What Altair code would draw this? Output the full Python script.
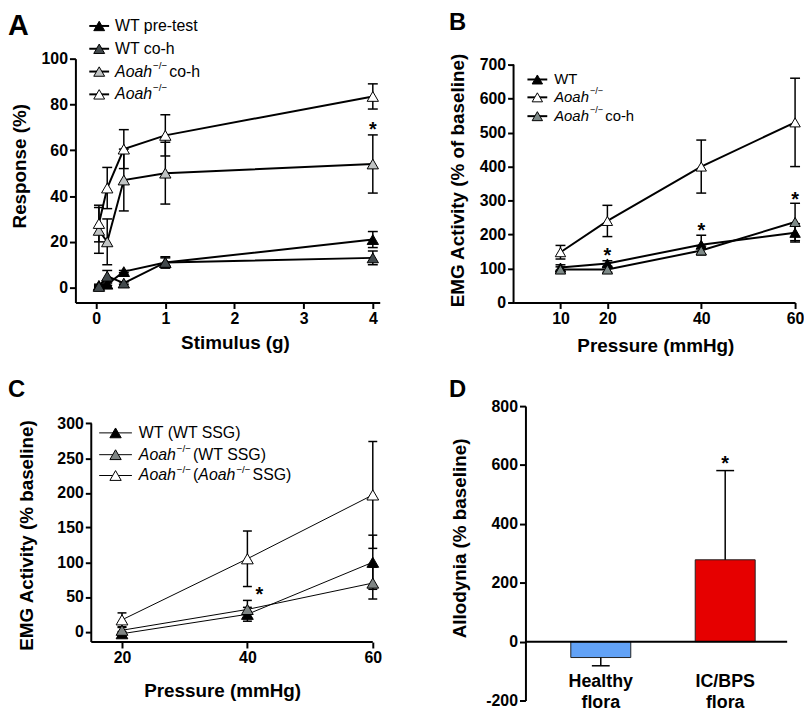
import altair as alt
import pandas as pd

FONT = "Liberation Sans"

# ---------------- data ----------------
a_stimulus = [0.04, 0.16, 0.4, 1, 4]
a_names = ["WT pre-test", "WT co-h", "Aoah-/- co-h", "Aoah-/-"]
a_wt_pre = [1, 1.5, 7, 11, 21]
a_wt_pre_err = [0.5, 0.5, 0.5, 2.5, 3.5]
a_wt_coh = [0.5, 5, 2, 11, 13]
a_wt_coh_err = [0.5, 2.5, 0.5, 2, 3]
a_ko_coh = [25, 20, 47, 50, 54]
a_ko_coh_err = [10, 10, 13.5, 13.5, 12.7]
a_ko = [28, 43.5, 60.5, 66.5, 83.5]
a_ko_err = [8, 9, 8.5, 9, 5.5]
a_fills = ["#000000", "#42494c", "#c0c3c3", "#ffffff"]
a_star_x = [4]
a_star_y = [71]

b_pressure = [10, 20, 40, 60]
b_names = ["WT", "Aoah-/-", "Aoah-/- co-h"]
b_wt = [103, 115, 170, 205]
b_wt_err = [8, 8, 28, 27]
b_ko = [148, 240, 400, 530]
b_ko_err = [20, 46, 78, 130]
b_ko_coh = [97, 97, 153, 237]
b_ko_coh_err = [8, 8, 13, 55]
b_fills = ["#000000", "#ffffff", "#7e8a88"]
b_star_x = [20, 40, 60]
b_star_y = [150, 225, 316]

c_pressure = [20, 40, 60]
c_names = ["WT (WT SSG)", "Aoah-/- (WT SSG)", "Aoah-/- (Aoah-/- SSG)"]
c_wt = [-3, 25, 100]
c_wt_err = [3, 10, 39]
c_ko_wt = [2, 32, 70]
c_ko_wt_err = [4, 13, 23]
c_ko_ko = [17, 105, 197]
c_ko_ko_err = [10, 40, 77]
c_fills = ["#000000", "#7f8584", "#ffffff"]
c_star_x = [41.9]
c_star_y = [60.5]

d_groups = ["Healthy flora", "IC/BPS flora"]
d_mean = [-54, 278]
d_err = [28, 303]
d_colors = ["#62a2f6", "#e60000"]
d_star_y = [620]


def long_df(xs, names, means, errs):
    rows = []
    for n, m, e in zip(names, means, errs):
        for x, mv, ev in zip(xs, m, e):
            rows.append(dict(x=x, series=n, mean=mv, lo=mv - ev, hi=mv + ev))
    return pd.DataFrame(rows)


ONE = alt.Data(values=[{"k": 0}])

WID = {'A': .667, 'o': .556, 'a': .556, 'h': .556, ' ': .278, 'c': .5, '-': .333,
       'W': .944, 'T': .611, 'p': .556, 'r': .333, 'e': .556, 't': .278, 's': .5,
       '(': .333, 'S': .667, 'G': .778, ')': .333, '\u2212': .584, '/': .278}


def tw(s, fs):
    return sum(WID.get(ch, 0.556) for ch in s) * fs


def txt(x, y, text, size, weight="normal", style="normal", align="left",
        baseline="middle"):
    return alt.Chart(ONE).mark_text(
        text=text, font=FONT, fontSize=size, fontWeight=weight, fontStyle=style,
        align=align, baseline=baseline, color="black"
    ).encode(x=alt.value(x), y=alt.value(y))


def legend(entries, fills, ys, x0, x1, tx, fs, lw, tri):
    layers = []
    for parts, fill, y in zip(entries, fills, ys):
        layers.append(alt.Chart(ONE).mark_rule(color="black", strokeWidth=lw).encode(
            x=alt.value(x0), x2=alt.value(x1), y=alt.value(y)))
        layers.append(alt.Chart(ONE).mark_point(
            shape="triangle-up", filled=True, size=tri, fill=fill, stroke="black",
            strokeWidth=1, opacity=1).encode(x=alt.value((x0 + x1) / 2), y=alt.value(y)))
        x = tx
        for text, kind in parts:
            if kind == "s":
                sfs = fs * 0.62
                layers.append(txt(x + 1, y - 6, text, sfs))
                x += tw(text, sfs) + 3
            else:
                layers.append(txt(x, y, text, fs, style="italic" if kind == "i" else "normal"))
                x += tw(text, fs)
    return layers


def line_panel(df, names, fills, xdom, ydom, w, h, xaxis, yaxis, lw, ebw, cap, tri,
               stars, extra_fn):
    xs = alt.Scale(domain=xdom, nice=False, zero=False)
    ys = alt.Scale(domain=ydom, nice=False, zero=False)
    X = alt.X("x:Q", scale=xs, axis=xaxis)

    def Y(f):
        return alt.Y(f, type="quantitative", scale=ys, axis=yaxis)

    base = alt.Chart(df)
    bars = base.mark_rule(color="black", strokeWidth=ebw).encode(
        x=X, y=Y("lo"), y2="hi:Q")
    cap_lo = base.mark_tick(orient="horizontal", size=cap, thickness=ebw,
                            color="black", opacity=1).encode(x=X, y=Y("lo"))
    cap_hi = base.mark_tick(orient="horizontal", size=cap, thickness=ebw,
                            color="black", opacity=1).encode(x=X, y=Y("hi"))
    line = base.mark_line(color="black", strokeWidth=lw).encode(
        x=X, y=Y("mean"), detail="series:N")
    pts = base.mark_point(shape="triangle-up", filled=True, size=tri, stroke="black",
                          strokeWidth=1, opacity=1).encode(
        x=X, y=Y("mean"),
        fill=alt.Fill("series:N", scale=alt.Scale(domain=names, range=fills), legend=None))
    sx, sy = stars
    star = alt.Chart(pd.DataFrame({"x": sx, "y": sy})).mark_text(
        text="*", font=FONT, fontSize=20, fontWeight="bold", baseline="alphabetic",
        dy=11, color="black").encode(x=X, y=Y("y"))
    return alt.layer(bars, cap_lo, cap_hi, line, pts, star, *extra_fn(X, Y)).properties(
        width=w, height=h)


sup = "\u2212/\u2212"

# ---------------- panel A ----------------
dfA = long_df(a_stimulus, a_names, [a_wt_pre, a_wt_coh, a_ko_coh, a_ko],
              [a_wt_pre_err, a_wt_coh_err, a_ko_coh_err, a_ko_err])
legA = legend(
    [[("WT pre-test", "n")], [("WT co-h", "n")],
     [("Aoah", "i"), (sup, "s"), (" co-h", "n")], [("Aoah", "i"), (sup, "s")]],
    a_fills, [-33, -10, 13, 36], 14, 34, 40, 16, 2, 120)
panelA = line_panel(
    dfA, a_names, a_fills, [-0.3, 4.1], [-6.5, 100], 307, 246,
    alt.Axis(values=[0, 1, 2, 3, 4], title="Stimulus (g)", titleX=161, titleY=40),
    alt.Axis(values=[0, 20, 40, 60, 80, 100], title="Response (%)", titleX=-56, titleY=108),
    2, 1.5, 10, 130, (a_star_x, a_star_y),
    lambda X, Y: legA + [txt(-68, -47, "A", 29, weight="bold", baseline="top")])

# ---------------- panel B ----------------
dfB = long_df(b_pressure, b_names, [b_wt, b_ko, b_ko_coh],
              [b_wt_err, b_ko_err, b_ko_coh_err])
legB = legend(
    [[("WT", "n")], [("Aoah", "i"), (sup, "s")],
     [("Aoah", "i"), (sup, "s"), (" co-h", "n")]],
    b_fills, [21, 39, 58], 14, 34, 41, 15, 2, 110)
axB_x = alt.Axis(values=[10, 20, 40, 60], title="Pressure (mmHg)", titleX=143, titleY=43)
axB_y = alt.Axis(values=[0, 100, 200, 300, 400, 500, 600, 700], domain=False,
                 title="EMG Activity (% of baseline)", titleX=-56, titleY=122.5)


def extraB(X, Y):
    line_ax = alt.Chart(pd.DataFrame({"x": [0], "y0": [0], "y1": [700]})).mark_rule(
        color="black", strokeWidth=2).encode(x=X, y=Y("y0"), y2="y1:Q")
    return [line_ax] + legB + [txt(-65, -48, "B", 24, weight="bold", baseline="top")]


panelB = line_panel(
    dfB, b_names, b_fills, [0, 60], [0, 717.5], 284, 246, axB_x, axB_y,
    2, 1.5, 10, 110, (b_star_x, b_star_y), extraB)

# ---------------- panel C ----------------
dfC = long_df(c_pressure, c_names, [c_wt, c_ko_wt, c_ko_ko],
              [c_wt_err, c_ko_wt_err, c_ko_ko_err])
legC = legend(
    [[("WT (WT SSG)", "n")],
     [("Aoah", "i"), (sup, "s"), ("(WT SSG)", "n")],
     [("Aoah", "i"), (sup, "s"), ("(", "n"), ("Aoah", "i"), (sup, "s"), (" SSG)", "n")]],
    c_fills, [27, 49, 70], 24, 57, 64, 16, 1, 130)


def extraC(X, Y):
    ax_y = alt.Chart(pd.DataFrame({"x": [15.1], "y0": [-15], "y1": [300]})).mark_rule(
        color="black", strokeWidth=2).encode(x=X, y=Y("y0"), y2="y1:Q")
    ax_x = alt.Chart(pd.DataFrame({"x": [15.1], "x1": [60], "y0": [-15]})).mark_rule(
        color="black", strokeWidth=2).encode(x=X, x2="x1:Q", y=Y("y0"))
    return [ax_y, ax_x] + legC + [txt(-68, -28, "C", 24, weight="bold", baseline="top")]


panelC = line_panel(
    dfC, c_names, c_fills, [12.57, 60], [-15, 325], 300, 238,
    alt.Axis(values=[20, 40, 60], domain=False, title="Pressure (mmHg)",
             titleX=148, titleY=49),
    alt.Axis(values=[0, 50, 100, 150, 200, 250, 300], domain=False, offset=-16,
             title="EMG Activity (% baseline)", titleX=-65, titleY=130),
    1, 1.5, 9, 140, (c_star_x, c_star_y), extraC)

# ---------------- panel D ----------------
dfD = pd.DataFrame({
    "group": d_groups, "mean": d_mean, "zero": [0, 0],
    "tip": [m - e if m < 0 else m + e for m, e in zip(d_mean, d_err)],
})
xsD = alt.Scale(domain=d_groups, range=[57.75, 243.75], paddingInner=0.518, paddingOuter=0)
ysD = alt.Scale(domain=[-200, 800], nice=False, zero=False)
axD = alt.Axis(values=[-200, 0, 200, 400, 600, 800], offset=-12,
               labelExpr="datum.value + ''",
               title="Allodynia (% baseline)", titleX=-66.5, titleY=133)
XD = alt.X("group:N", scale=xsD, axis=None)


def YD(f):
    return alt.Y(f, type="quantitative", scale=ysD, axis=axD)


barsD = alt.Chart(dfD).mark_bar(stroke="#222222", strokeWidth=1).encode(
    x=XD, y=YD("mean"), y2="zero:Q",
    fill=alt.Fill("group:N", scale=alt.Scale(domain=d_groups, range=d_colors), legend=None))
errD = alt.Chart(dfD).mark_rule(color="black", strokeWidth=1.5).encode(
    x=XD, y=YD("mean"), y2="tip:Q")
capD = alt.Chart(dfD).mark_tick(orient="horizontal", size=18, thickness=1.5,
                                color="black", opacity=1).encode(x=XD, y=YD("tip"))
zeroD = alt.Chart(pd.DataFrame({"zero": [0]})).mark_rule(color="black", strokeWidth=2).encode(
    x=alt.value(12), x2=alt.value(276), y=YD("zero"))
labD = alt.Chart(dfD).mark_text(
    font=FONT, fontSize=18, fontWeight="bold", lineBreak=" ", lineHeight=22,
    baseline="top", color="black").encode(x=XD, y=alt.value(269), text="group:N")
starD = alt.Chart(pd.DataFrame({"group": [d_groups[1]], "y": d_star_y})).mark_text(
    text="*", font=FONT, fontSize=20, fontWeight="bold", baseline="alphabetic", dy=11,
    color="black").encode(x=XD, y=YD("y"))
panelD = alt.layer(
    barsD, errD, capD, zeroD, labD, starD,
    txt(-65, -28, "D", 24, weight="bold", baseline="top")
).properties(width=276, height=297)

chart = alt.concat(
    panelA, panelB, panelC, panelD, columns=2,
    spacing={"row": 53.5, "column": 135}, bounds="flush", align="all"
).resolve_scale(fill="independent").properties(padding=0).configure_view(
    stroke=None).configure_axis(
    labelFont=FONT, labelFontSize=16, labelFontWeight="bold", labelColor="black",
    titleFont=FONT, titleFontSize=19, titleFontWeight="bold", titleColor="black",
    domainColor="black", domainWidth=2, tickColor="black", tickWidth=2, tickSize=6,
    labelPadding=2, grid=False, labelFlush=False, labelOverlap=False,
    titleAlign="center", titleBaseline="middle")

chart.save("out.html", embed_options={"renderer": "svg", "actions": False})
